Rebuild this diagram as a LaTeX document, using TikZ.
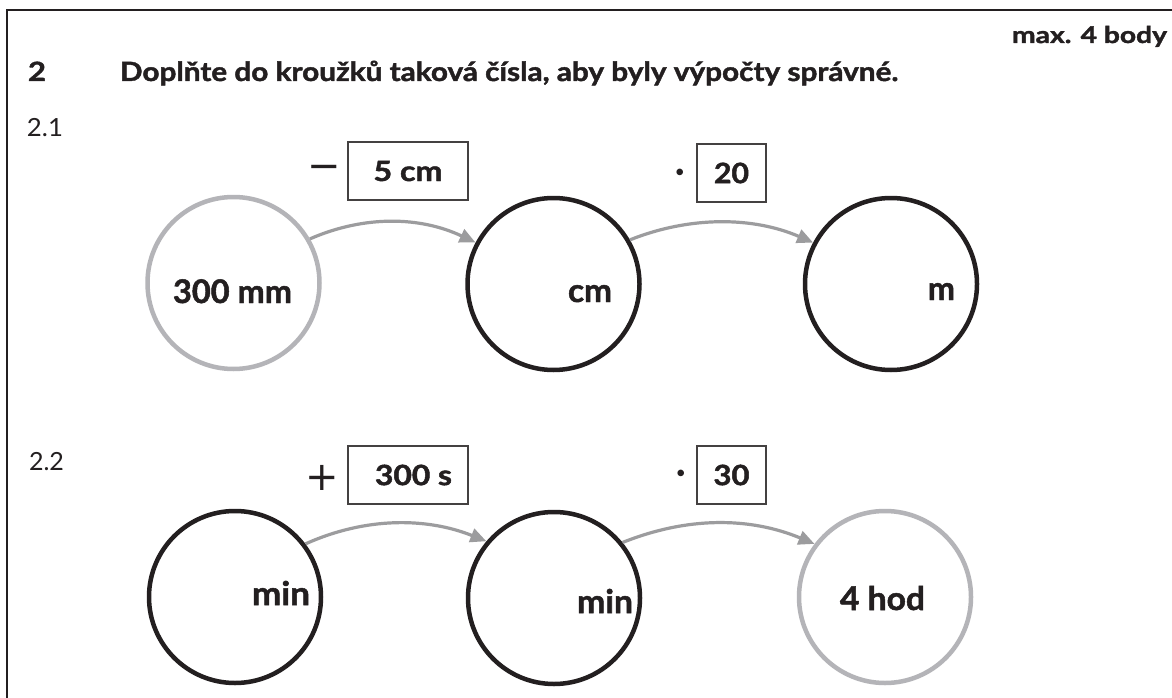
\documentclass[tikz,border=0pt]{standalone}
\usepackage{fontspec}
\setmainfont{Lato}[BoldFeatures={FakeBold=1.5}]
\newfontfamily\opfont{DejaVu Sans}
\usetikzlibrary{arrows.meta}
\definecolor{ink}{HTML}{231F20}
\definecolor{lgray}{HTML}{B4B4B8}
\definecolor{agray}{HTML}{9C9C9E}
\newcommand\fitto[2]{\resizebox{#1pt}{\height}{#2}}
\begin{document}
\begin{tikzpicture}[x=1pt,y=1pt,
  every node/.style={inner sep=0pt, outer sep=0pt, text=ink},
  ring/.style={circle, line width=4.5pt, minimum size=172pt, outer sep=2.25pt},
  given/.style={ring, draw=lgray},
  blank/.style={ring, draw=ink},
  opbox/.style={draw=ink!85, line width=1.6pt, minimum height=58pt, font=\bfseries\fontsize{28}{30}\selectfont},
  lbl/.style={font=\bfseries\fontsize{32.5}{34}\selectfont, anchor=base west},
  head/.style={font=\bfseries\fontsize{26.5}{30}\selectfont, anchor=base west},
  sub/.style={font=\fontsize{25}{28}\selectfont, anchor=base west},
  op/.style={font=\opfont\fontsize{40}{42}\selectfont},
  dotop/.style={font=\fontsize{44}{46}\selectfont},
  arr/.style={draw=agray, line width=3.2pt, -{Triangle[length=16pt,width=14pt]}},
]
\useasboundingbox (0,0) rectangle (1172,-698);
\fill[white] (0,0) rectangle (1172,-698);
\draw[ink, line width=2pt] (7,-698) -- (7,-10) -- (1172,-10);

% headings
\node[font=\bfseries\fontsize{23}{26}\selectfont, anchor=base west] (pts) at (1012,-43) {\fitto{155}{max. 4 body}};
\node[head] (num) at (28,-81) {\fitto{18}{2}};
\node[head] (task) at (120,-81) {\fitto{778}{Doplňte do kroužků taková čísla, aby byly výpočty správné.}};
\node[sub] (s1) at (27,-137) {\fitto{36}{2.1}};
\node[sub] (s2) at (29,-470) {\fitto{35}{2.2}};

% row 2.1
\node[given] (c11) at (233.5,-283) {};
\node[blank] (c12) at (553.5,-284) {};
\node[blank] (c13) at (891,-284) {};
\node[lbl] (t11) at (173,-303) {\fitto{119}{300 mm}};
\node[lbl] (t12) at (568,-302) {\fitto{44}{cm}};
\node[lbl] (t13) at (928,-300) {\fitto{27}{m}};

\node[op] (o11) at (324.5,-172) {−};
\node[opbox, minimum width=120pt] (b11) at (408,-171) {\fitto{69}{5 cm}\hspace{9pt}};
\node[dotop] (o12) at (680,-177) {·};
\node[opbox, minimum width=69pt] (b12) at (731.5,-173) {\fitto{35}{20}};

\draw[arr] (c11.30) .. controls +(55,24) and +(-55,26) .. (c12.152);
\draw[arr] (c12.30) .. controls +(60,24) and +(-60,26) .. (c13.152);

% row 2.2
\node[blank] (c21) at (235,-597) {};
\node[blank] (c22) at (554,-598) {};
\node[given] (c23) at (885,-597) {};
\node[lbl] (t21) at (252,-605) {\fitto{58}{min}};
\node[lbl] (t22) at (577,-613) {\fitto{56}{min}};
\node[lbl] (t23) at (840,-610) {\fitto{85}{4 hod}};

\node[op] (o21) at (322.5,-478) {+};
\node[opbox, minimum width=120pt] (b21) at (408,-475) {\hspace{11pt}\fitto{77}{300 s}};
\node[dotop] (o22) at (681,-478) {·};
\node[opbox, minimum width=69pt] (b22) at (731.5,-475) {\fitto{36}{30}};

\draw[arr] (c21.37) .. controls +(60,27) and +(-60,24) .. (c22.140);
\draw[arr] (c22.39) .. controls +(65,26) and +(-65,27) .. (c23.143);
\end{tikzpicture}
\end{document}
